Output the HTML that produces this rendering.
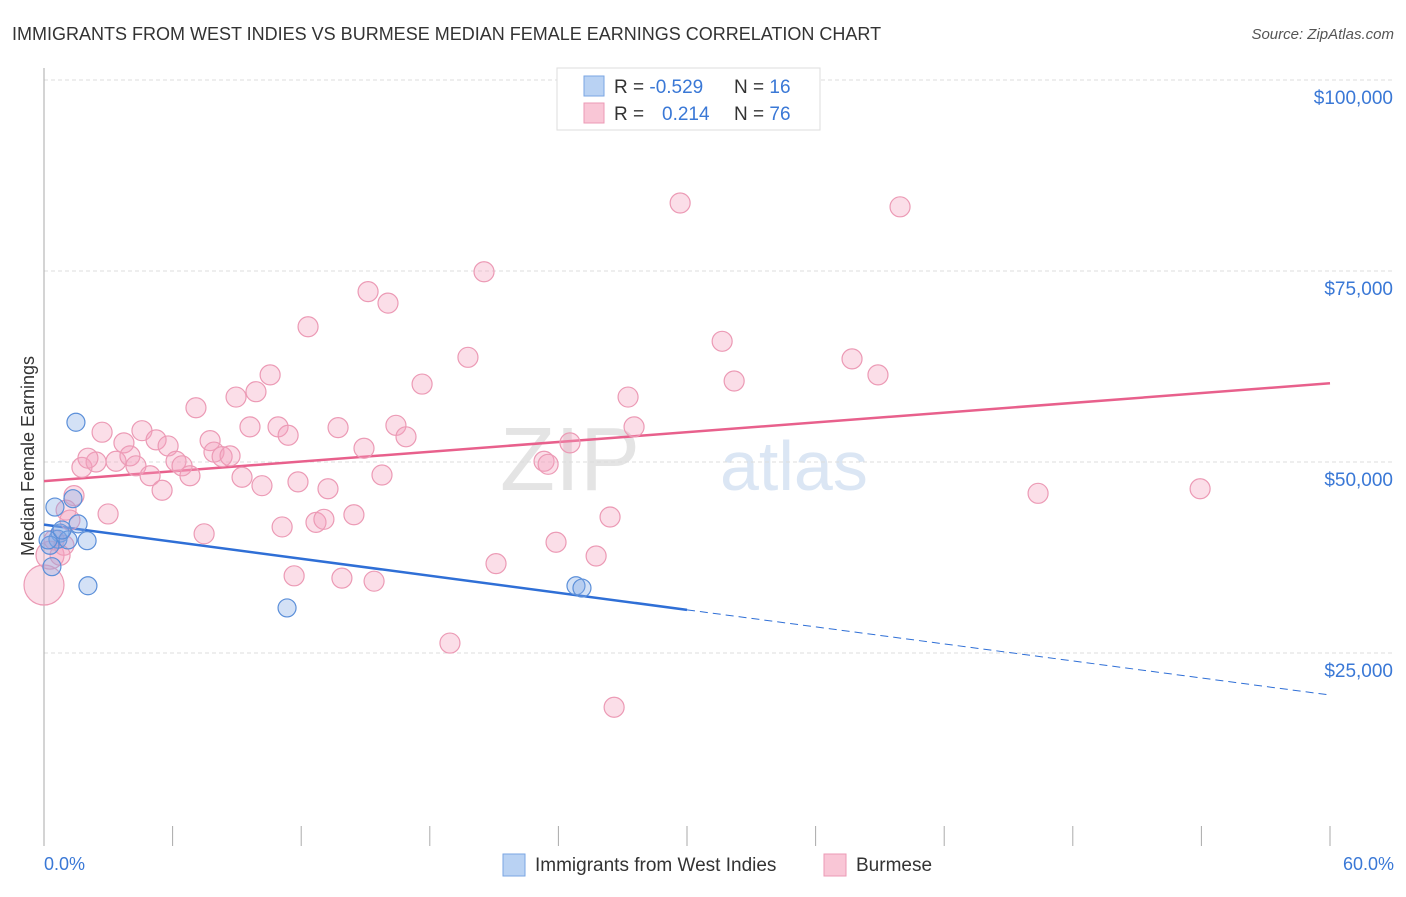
<!DOCTYPE html>
<html><head><meta charset="utf-8"><style>
body{margin:0;background:#fff;font-family:"Liberation Sans",sans-serif}
svg text{font-family:"Liberation Sans",sans-serif}
</style></head><body>
<svg width="1406" height="892" xmlns="http://www.w3.org/2000/svg">
<text x="12" y="40" font-size="18" fill="#333">IMMIGRANTS FROM WEST INDIES VS BURMESE MEDIAN FEMALE EARNINGS CORRELATION CHART</text>
<text x="1394" y="39" font-size="15" fill="#555" font-style="italic" text-anchor="end">Source: ZipAtlas.com</text>
<g><text x="640" y="490" font-size="90" fill="#e4e4e4" text-anchor="end" font-family="Liberation Serif">ZIP</text><text x="720" y="490" font-size="70" fill="#dbe6f4">atlas</text></g>
<g id="grid"></g><g id="axes"></g><g id="lines"></g><g id="pts"></g>
<text transform="translate(34,456) rotate(-90)" font-size="18" fill="#333" text-anchor="middle">Median Female Earnings</text>
<text x="44" y="870" font-size="18" fill="#3a78d6">0.0%</text>
<text x="1394" y="870" font-size="18" fill="#3a78d6" text-anchor="end">60.0%</text>
<g>
<rect x="557" y="68" width="263" height="62" fill="#fff" stroke="#ddd"/>
<rect x="584" y="76" width="20" height="20" fill="#b9d2f3" stroke="#7aa6e3"/>
<rect x="584" y="103" width="20" height="20" fill="#f9c6d6" stroke="#ec9ab5"/>
<text x="614" y="93" font-size="19" fill="#333">R = <tspan fill="#3a78d6">-0.529</tspan><tspan x="734">N = </tspan><tspan fill="#3a78d6">16</tspan></text>
<text x="614" y="120" font-size="19" fill="#333">R = <tspan x="662" fill="#3a78d6">0.214</tspan><tspan x="734">N = </tspan><tspan fill="#3a78d6">76</tspan></text>
</g>
<g>
<rect x="503" y="854" width="22" height="22" fill="#b9d2f3" stroke="#7aa6e3"/>
<text x="535" y="871" font-size="19" fill="#333">Immigrants from West Indies</text>
<rect x="824" y="854" width="22" height="22" fill="#f9c6d6" stroke="#ec9ab5"/>
<text x="856" y="871" font-size="19" fill="#333">Burmese</text>
</g>
</svg>
<script>
const yTicks=[25000,50000,75000,100000];
const yTickLabels=["$25,000","$50,000","$75,000","$100,000"];
const xTicks=[0,6,12,18,24,30,36,42,48,54,60];
const blueX=[1.49,0.51,1.35,1.59,0.75,0.65,1.12,2.01,0.28,0.37,2.05,11.34,24.82,25.1,0.19,0.84];
const blueY=[55.2,44.1,45.2,41.9,40.7,39.9,39.8,39.7,39.1,36.3,33.8,30.9,33.8,33.5,39.8,41.1];
const pinkX=[0,0.28,2.71,1.77,2.43,2.05,3.36,3.73,4.01,4.29,4.57,4.95,5.23,5.51,5.79,6.16,6.44,6.81,7.09,7.47,7.75,7.93,8.31,8.68,8.96,9.24,9.61,9.89,10.17,10.55,10.92,11.11,11.39,11.67,11.85,12.32,12.69,13.06,13.25,13.72,13.9,14.46,14.93,15.12,15.4,15.77,16.05,16.42,16.89,17.64,18.94,19.78,20.53,21.09,23.33,23.52,23.89,24.54,25.76,26.41,26.6,27.25,27.53,29.68,31.64,32.2,37.7,38.91,39.94,46.38,53.94,2.99,1.4,1.03,1.21,0.47,0.93,0.75];
const pinkY=[33.9,37.8,53.9,49.3,50.0,50.5,50.1,52.5,50.8,49.5,54.1,48.2,52.9,46.3,52.1,50.1,49.5,48.2,57.1,40.6,52.8,51.3,50.7,50.8,58.5,48.0,54.6,59.2,46.9,61.4,54.6,41.5,53.5,35.1,47.4,67.7,42.1,42.5,46.5,54.5,34.8,43.1,51.8,72.3,34.4,48.3,70.8,54.8,53.3,60.2,26.3,63.7,74.9,36.7,50.1,49.7,39.5,52.5,37.7,42.8,17.9,58.5,54.6,83.9,65.8,60.6,63.5,61.4,83.4,45.9,46.5,43.2,45.6,43.7,42.4,39.8,39.1,37.8];
const pinkTrend=[47.5,60.3];
const blueTrend=[41.8,19.5];
const NS="http://www.w3.org/2000/svg";
const X=v=>44+v/60*1286, Y=v=>844-v/25000*191;
function mk(p,t,a){const e=document.createElementNS(NS,t);for(const k in a)e.setAttribute(k,a[k]);document.getElementById(p).appendChild(e);return e;}
yTicks.forEach((t,i)=>{
 let l=mk('grid','line',{x1:44,x2:1393,y1:Y(t),y2:Y(t),stroke:'#ddd','stroke-dasharray':'4,3'});
 
 
 let tx=mk('grid','text',{x:1393,y:Y(t)+24,'font-size':19,fill:'#3a78d6','text-anchor':'end'});
 tx.textContent=yTickLabels[i];
 
 
});
let ax=mk('axes','line',{x1:44,x2:44,y1:68,y2:846,stroke:'#aaa'});


xTicks.forEach(t=>{
 let l=mk('axes','line',{x1:X(t),x2:X(t),y1:826,y2:846,stroke:'#aaa'});
 
 
});
let pl=mk('lines','line',{x1:X(0),x2:X(60),y1:Y(pinkTrend[0]*1000),y2:Y(pinkTrend[1]*1000),stroke:'#e8608c','stroke-width':2.5});


const bAt=x=>blueTrend[0]+(blueTrend[1]-blueTrend[0])*x/60;
let bl=mk('lines','line',{x1:X(0),x2:X(30),y1:Y(bAt(0)*1000),y2:Y(bAt(30)*1000),stroke:'#2f6fd6','stroke-width':2.5});


let bd=mk('lines','line',{x1:X(30),x2:X(60),y1:Y(bAt(30)*1000),y2:Y(bAt(60)*1000),stroke:'#2f6fd6','stroke-width':1,'stroke-dasharray':'8,5'});


pinkX.forEach((x,i)=>{
 let r=i==0?20:(i==1?14:10);
 let c=mk('pts','circle',{cx:X(x),cy:Y(pinkY[i]*1000),r:r,fill:'rgba(243,160,188,0.35)',stroke:'#ec9ab5','stroke-width':1.2});
 
 
});
blueX.forEach((x,i)=>{
 let c=mk('pts','circle',{cx:X(x),cy:Y(blueY[i]*1000),r:9,fill:'rgba(130,170,230,0.35)',stroke:'#5b8fd9','stroke-width':1.2});
 
 
});
</script>
</body></html>
